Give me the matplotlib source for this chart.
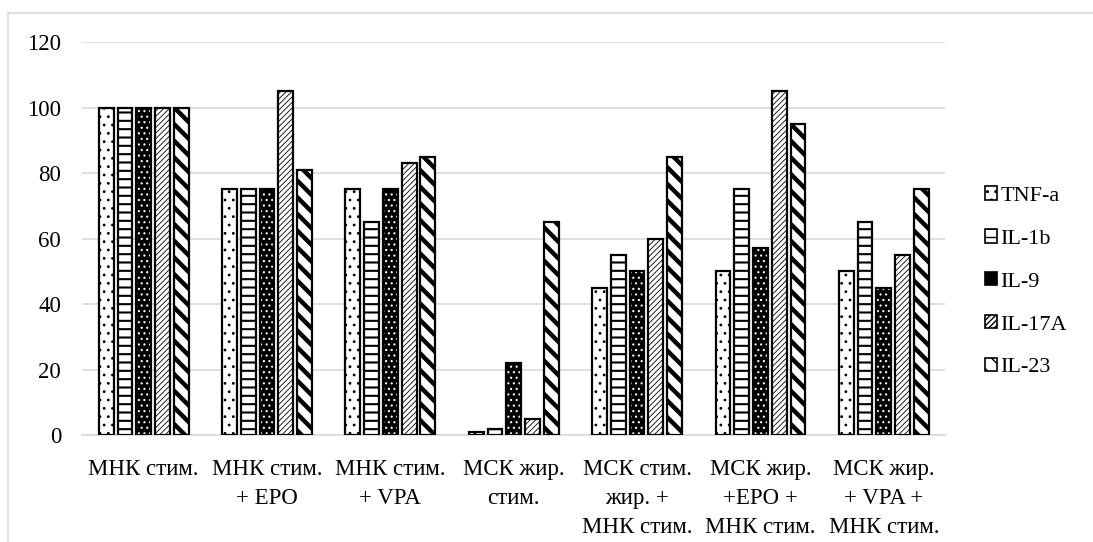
import numpy as np
import matplotlib.pyplot as plt
from matplotlib.lines import Line2D

plt.rcParams['font.family'] = ['Liberation Serif', 'DejaVu Serif']

groups = ['МНК стим.', 'МНК стим.\n+ EPO', 'МНК стим.\n+ VPA', 'МСК жир.\nстим.',
          'МСК стим.\nжир. +\nМНК стим.', 'МСК жир.\n+EPO +\nМНК стим.',
          'МСК жир.\n+ VPA +\nМНК стим.']
tnf_a = [100, 75, 75, 1, 45, 50, 50]
il_1b = [100, 75, 65, 2, 55, 75, 65]
il_9 = [100, 75, 75, 22, 50, 57, 45]
il_17a = [100, 105, 83, 5, 60, 105, 55]
il_23 = [100, 81, 85, 65, 85, 95, 75]

series = [('TNF-a', tnf_a), ('IL-1b', il_1b), ('IL-9', il_9),
          ('IL-17A', il_17a), ('IL-23', il_23)]

# face colour, hatch colour, hatch, hatch line width
styles = [
    ('white', 'black', '..', 0.8),
    ('white', 'black', '--', 1.5),
    ('black', 'white', '...', 0.8),
    ('white', 'black', '//////', 0.6),
    ('white', 'black', '\\\\', 3.2),
]

fig = plt.figure(figsize=(10.93, 5.42), dpi=100)
ax = fig.add_axes([0.075, 0.197, 0.79, 0.7255])

x = np.arange(len(groups))
step = 0.152
width = 0.12
handles = []
for i, ((name, vals), (fc, hc, hatch, hlw)) in enumerate(zip(series, styles)):
    pos = x + (i - 2) * step
    with plt.rc_context({'hatch.linewidth': hlw, 'hatch.color': hc}):
        ax.bar(pos, vals, width, color=fc, edgecolor=hc, hatch=hatch,
               linewidth=0, zorder=2)
    ax.bar(pos, vals, width, facecolor='none', edgecolor='black',
           linewidth=1.6, zorder=3)
    with plt.rc_context({'hatch.linewidth': hlw, 'hatch.color': hc}):
        h = ax.bar([0], [0], 0, color=fc, edgecolor='black', hatch=hatch,
                   linewidth=1.2, label=name)
    handles.append(h)

ax.set_xlim(-0.5, len(groups) - 0.5)
ax.set_ylim(0, 120)
ax.set_yticks(np.arange(0, 121, 20))
ax.set_xticks(x)
ax.set_xticklabels(groups, fontsize=16.5, linespacing=1.5)
ax.tick_params(axis='y', labelsize=16.5, length=0, pad=15)
ax.tick_params(axis='x', length=0, pad=17)
ax.grid(axis='y', color='#d9d9d9', linewidth=1.2, zorder=0)
ax.set_axisbelow(True)
for s in ['top', 'right', 'left']:
    ax.spines[s].set_visible(False)
ax.spines['bottom'].set_color('#d9d9d9')
ax.spines['bottom'].set_linewidth(1.2)

ax.legend(handles=handles, loc='center left', bbox_to_anchor=(1.02, 0.39),
          frameon=False, fontsize=16, handlelength=0.55, handleheight=0.55,
          handletextpad=0.15, labelspacing=1.05, borderaxespad=0.6)

# outer chart border (top and left edges)
fig.add_artist(Line2D([8 / 1093, 1.0], [1 - 13 / 542, 1 - 13 / 542],
                      color='#d9d9d9', linewidth=1.2))
fig.add_artist(Line2D([8 / 1093, 8 / 1093], [0, 1 - 13 / 542],
                      color='#d9d9d9', linewidth=1.2))

fig.savefig('out.png', dpi=100)
